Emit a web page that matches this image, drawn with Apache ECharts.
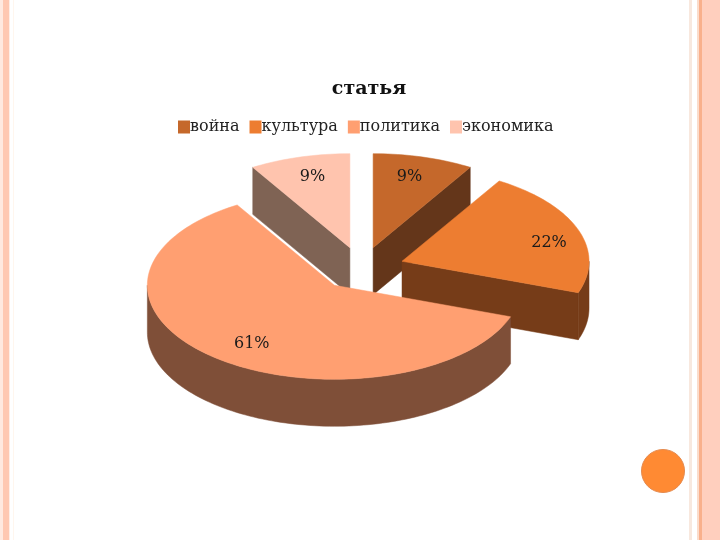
<!DOCTYPE html>
<html><head><meta charset="utf-8">
<style>html,body{margin:0;padding:0;background:#fff}#c{width:720px;height:540px}</style>
<script src="https://cdn.jsdelivr.net/npm/echarts@6/dist/echarts.min.js"></script>
</head><body><div id="c"></div>
<script>
const categories = ['война', 'культура', 'политика', 'экономика'];
const values = [2, 5, 14, 2];
const percentLabels = ['9%', '22%', '61%', '9%'];
const topColors = ['#C5682B', '#ED7D31', '#FF9F71', '#FFC4AE'];
const wallColors = ['#64361A', '#763C18', '#7F4F38', '#7F6354'];
const drawOrder = [3, 0, 1, 2];

const pie = { cx: 361.5, cy: 268.5, rx: 187, ry: 94, depth: 47, explode: 0.23 };
const labelFracX = [0.72, 0.834, 0.70, 0.74];
const labelFracY = [0.78, 0.58, 0.81, 0.78];
const serif = '"DejaVu Serif", serif';
const total = values.reduce((a, b) => a + b, 0);
const RAD = Math.PI / 180;

function sliceAngles(i) {
  let a = 0;
  for (let k = 0; k < i; k++) a += values[k] / total * 360;
  return [a, a + values[i] / total * 360];
}
function rim(c, deg, dy) {
  return [c[0] + pie.rx * Math.sin(deg * RAD), c[1] - pie.ry * Math.cos(deg * RAD) + (dy || 0)];
}
function arc(c, a, b, dy) {
  const n = Math.max(2, Math.ceil(Math.abs(b - a) / 1.5));
  const pts = [];
  for (let k = 0; k <= n; k++) pts.push(rim(c, a + (b - a) * k / n, dy));
  return pts;
}
function renderSlice(i) {
  return function (params, api) {
    const [a, b] = sliceAngles(i);
    const mid = (a + b) / 2;
    const c = [pie.cx + pie.explode * pie.rx * Math.sin(mid * RAD),
               pie.cy - pie.explode * pie.ry * Math.cos(mid * RAD)];
    const d = pie.depth, kids = [];
    const poly = (points, fill) => kids.push({
      type: 'polygon', shape: { points }, style: { fill, stroke: fill, lineWidth: 0.5 }
    });
    const face = deg => {
      const p = rim(c, deg);
      poly([c, p, [p[0], p[1] + d], [c[0], c[1] + d]], wallColors[i]);
    };
    if (Math.sin(a * RAD) < -1e-6) face(a);
    if (Math.sin(b * RAD) > 1e-6) face(b);
    const wa = Math.max(a, 90), wb = Math.min(b, 270);
    if (wb > wa) poly(arc(c, wa, wb, 0).concat(arc(c, wb, wa, d)), wallColors[i]);
    poly([c].concat(arc(c, a, b, 0)), topColors[i]);
    kids.push({
      type: 'text', z2: 10,
      style: {
        x: c[0] + labelFracX[i] * pie.rx * Math.sin(mid * RAD),
        y: c[1] - labelFracY[i] * pie.ry * Math.cos(mid * RAD),
        text: percentLabels[i], fill: '#1a1a1a', font: '16px ' + serif,
        align: 'center', verticalAlign: 'middle'
      }
    });
    return { type: 'group', children: kids };
  };
}
const bands = [[0,3,'#FFE9E0'],[3,9,'#FFC8B2'],[9,10,'#FFEDE6'],[13,14,'#FFF6EE'],
  [689,692,'#F8E8DE'],[697,699,'#FBDCCB'],[699,702,'#F9B08C'],[702,720,'#FFCFBE']];
const chart = echarts.init(document.getElementById('c'), null, { renderer: 'canvas' });
chart.setOption({
  animation: false,
  backgroundColor: '#fff',
  graphic: bands.map(s => ({ type: 'rect', silent: true, z: -1,
      shape: { x: s[0], y: 0, width: s[1] - s[0], height: 540 }, style: { fill: s[2] } }))
    .concat([{ type: 'circle', silent: true, shape: { cx: 663, cy: 471, r: 21.5 },
      style: { fill: '#FF8A33', stroke: '#E58A4E', lineWidth: 1 } },
      { type: 'text', silent: true, x: 369, y: 89,
        style: { text: 'статья', fill: '#111', font: 'bold 19px ' + serif,
          align: 'center', verticalAlign: 'middle' } }]),
  legend: { data: categories, left: 173, top: 114, itemWidth: 12, itemHeight: 13, itemGap: 10,
    icon: 'rect', textStyle: { fontFamily: serif, fontSize: 16, color: '#222', padding: [0, 0, 0, -5] } },
  series: drawOrder.map((i, order) => ({
    type: 'custom', name: categories[i], coordinateSystem: 'none', z: 2 + order,
    itemStyle: { color: topColors[i] }, silent: true,
    data: [values[i]], renderItem: renderSlice(i)
  }))
});
</script></body></html>
